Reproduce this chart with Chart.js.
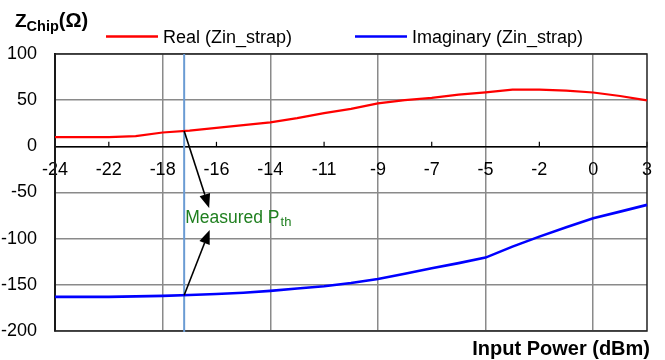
<!DOCTYPE html>
<html>
<head>
<meta charset="utf-8">
<script src="https://cdn.jsdelivr.net/npm/chart.js@4.4.0/dist/chart.umd.min.js"></script>
<style>
    html, body { margin: 0; padding: 0; background: #fff; }
    canvas { display: block; }
</style>
</head>
<body>
<canvas id="myChart" width="665" height="360"></canvas>
<script>
// Input power samples, every other one has a tick label
var powerLabels = ["-24", "", "-22", "", "-18", "", "-16", "", "-14", "", "-11", "",
    "-9", "", "-7", "", "-5", "", "-2", "", "0", "", "3"];
var realValues = [10, 10, 10, 11, 15, 17, 20, 23, 26, 30.5, 36, 40.5,
    46.5, 50, 52.5, 56, 58.5, 61.5, 61.5, 60.3, 58.3, 54.5, 49.7];
var imagValues = [-163, -163, -163, -162.5, -162, -161, -160, -158.5, -156.5, -154, -151.5, -148,
    -143.6, -138, -132, -126.5, -120.5, -108.6, -97.8, -87.6, -77.8, -70.7, -63.4];
var yTicks = [-200, -150, -100, -50, 0, 50, 100];
var seriesNames = ["Real (Zin_strap)", "Imaginary (Zin_strap)"];
var seriesColors = ["#ff0000", "#0000ff"];
var measuredPth = -17.2; // dBm
var labelValue = -83;    // where the "Measured Pth" text sits

var fontFamily = "'Liberation Sans', Arial, sans-serif";
Chart.defaults.font.family = fontFamily;
Chart.defaults.color = "#000";

// dBm -> (fractional) category index, using the labelled samples
function powerToIndex(p){
    var idx = [], vals = [];
    powerLabels.forEach(function (l, i){
        if (l !== ""){ idx.push(i); vals.push(Number(l)); }
    });
    for (var k = 0; k < vals.length - 1; k++){
        if (p >= vals[k] && p <= vals[k + 1]){
            return idx[k] + (p - vals[k]) / (vals[k + 1] - vals[k]) * (idx[k + 1] - idx[k]);
        }
    }
    return 0;
}
function valueAt(arr, fi){
    var i = Math.floor(fi), f = fi - i;
    if (i >= arr.length - 1) return arr[arr.length - 1];
    return arr[i] + (arr[i + 1] - arr[i]) * f;
}
function arrow(ctx, x1, y1, x2, y2){
    var a = Math.atan2(y2 - y1, x2 - x1), len = 14, hw = 5.5;
    var bx = x2 - len * Math.cos(a), by = y2 - len * Math.sin(a);
    ctx.beginPath();
    ctx.moveTo(x1, y1);
    ctx.lineTo(bx, by);
    ctx.stroke();
    ctx.beginPath();
    ctx.moveTo(x2, y2);
    ctx.lineTo(bx + hw * Math.sin(a), by - hw * Math.cos(a));
    ctx.lineTo(bx - hw * Math.sin(a), by + hw * Math.cos(a));
    ctx.closePath();
    ctx.fill();
}

var extras = {
    id: "extras",
    beforeDatasetsDraw: function (chart){
        var ctx = chart.ctx, a = chart.chartArea, x = chart.scales.x, y = chart.scales.y;
        ctx.save();
        // small ticks on the zero line
        ctx.strokeStyle = "#000";
        ctx.lineWidth = 1.2;
        powerLabels.forEach(function (l, i){
            if (i % 4 === 2){
                var px = x.getPixelForValue(i);
                ctx.beginPath();
                ctx.moveTo(px, y.getPixelForValue(0) - 4.5);
                ctx.lineTo(px, y.getPixelForValue(0));
                ctx.stroke();
            }
        });
        // plot frame
        ctx.strokeStyle = "#222";
        ctx.lineWidth = 1.5;
        ctx.strokeRect(a.left, a.top, a.right - a.left, a.bottom - a.top);
        // measured threshold line
        var pthX = x.getPixelForValue(powerToIndex(measuredPth));
        ctx.strokeStyle = "#6a9bd3";
        ctx.lineWidth = 2;
        ctx.beginPath();
        ctx.moveTo(pthX, a.top);
        ctx.lineTo(pthX, a.bottom + 1);
        ctx.stroke();
        ctx.restore();
    },
    afterDatasetsDraw: function (chart){
        var ctx = chart.ctx, x = chart.scales.x, y = chart.scales.y;
        var fi = powerToIndex(measuredPth);
        var pthX = x.getPixelForValue(fi);
        var base = y.getPixelForValue(labelValue);
        ctx.save();
        // arrows
        ctx.strokeStyle = "#000";
        ctx.fillStyle = "#000";
        ctx.lineWidth = 1.6;
        arrow(ctx, pthX, y.getPixelForValue(valueAt(realValues, fi)), pthX + 25, base - 15);
        arrow(ctx, pthX, y.getPixelForValue(valueAt(imagValues, fi)), pthX + 25.5, base + 7);
        // label
        ctx.fillStyle = "#1f7f1f";
        ctx.textBaseline = "alphabetic";
        ctx.textAlign = "left";
        ctx.font = "17.5px " + fontFamily;
        ctx.fillText("Measured P", pthX + 1, base);
        var w = ctx.measureText("Measured P").width;
        ctx.font = "13px " + fontFamily;
        ctx.fillText("th", pthX + 1 + w + 1, base + 3.5);
        ctx.restore();
    },
    afterDraw: function (chart){
        var ctx = chart.ctx, a = chart.chartArea;
        ctx.save();
        ctx.fillStyle = "#000";
        ctx.textBaseline = "alphabetic";
        // y title Z_Chip(Ω)
        ctx.font = "bold 19px " + fontFamily;
        ctx.fillText("Z", 15, 27);
        var zw = ctx.measureText("Z").width;
        ctx.font = "bold 14.5px " + fontFamily;
        ctx.fillText("Chip", 15 + zw, 31);
        var cw = ctx.measureText("Chip").width;
        ctx.font = "bold 20px " + fontFamily;
        ctx.fillText("(\u03A9)", 15 + zw + cw, 27);
        // x title
        ctx.font = "bold 20px " + fontFamily;
        ctx.textAlign = "right";
        ctx.fillText("Input Power (dBm)", a.right + 3, 355);
        // legend
        var legendX = [106, 355];
        ctx.textAlign = "left";
        ctx.font = "18px " + fontFamily;
        chart.data.datasets.forEach(function (ds, i){
            ctx.strokeStyle = ds.borderColor;
            ctx.lineWidth = 2.5;
            ctx.beginPath();
            ctx.moveTo(legendX[i], 36.5);
            ctx.lineTo(legendX[i] + 52, 36.5);
            ctx.stroke();
            ctx.fillStyle = "#000";
            ctx.fillText(ds.label, legendX[i] + 57, 42.5);
        });
        ctx.restore();
    }
};

new Chart("myChart", {
    type: "line",
    data: {
        labels: powerLabels,
        datasets: [{
            label: seriesNames[0],
            data: realValues,
            borderColor: seriesColors[0],
            borderWidth: 2.2,
            pointRadius: 0,
            tension: 0
        }, {
            label: seriesNames[1],
            data: imagValues,
            borderColor: seriesColors[1],
            borderWidth: 2.6,
            pointRadius: 0,
            tension: 0
        }]
    },
    options: {
        responsive: false,
        animation: false,
        layout: {
            padding: { top: 54, right: 16, bottom: 29, left: 1 }
        },
        plugins: {
            legend: { display: false },
            tooltip: { enabled: false }
        },
        scales: {
            x: {
                position: { y: 0 },
                grid: {
                    color: function (c){ return c.index % 4 === 0 ? "#8a8a8a" : "rgba(0,0,0,0)"; },
                    lineWidth: 1.5,
                    drawTicks: false
                },
                border: { color: "#000", width: 1.5 },
                ticks: {
                    autoSkip: false,
                    maxRotation: 0,
                    padding: 13,
                    font: { size: 18 },
                    callback: function (v, i){ return powerLabels[i]; }
                }
            },
            y: {
                min: yTicks[0],
                max: yTicks[yTicks.length - 1],
                afterFit: function (scale){ scale.width = 54; },
                grid: {
                    color: "#8a8a8a",
                    lineWidth: 1.5,
                    drawTicks: false
                },
                border: { color: "#000", width: 2 },
                ticks: {
                    stepSize: yTicks[1] - yTicks[0],
                    padding: 18,
                    font: { size: 18 }
                }
            }
        }
    },
    plugins: [extras]
});
</script>
</body>
</html>
